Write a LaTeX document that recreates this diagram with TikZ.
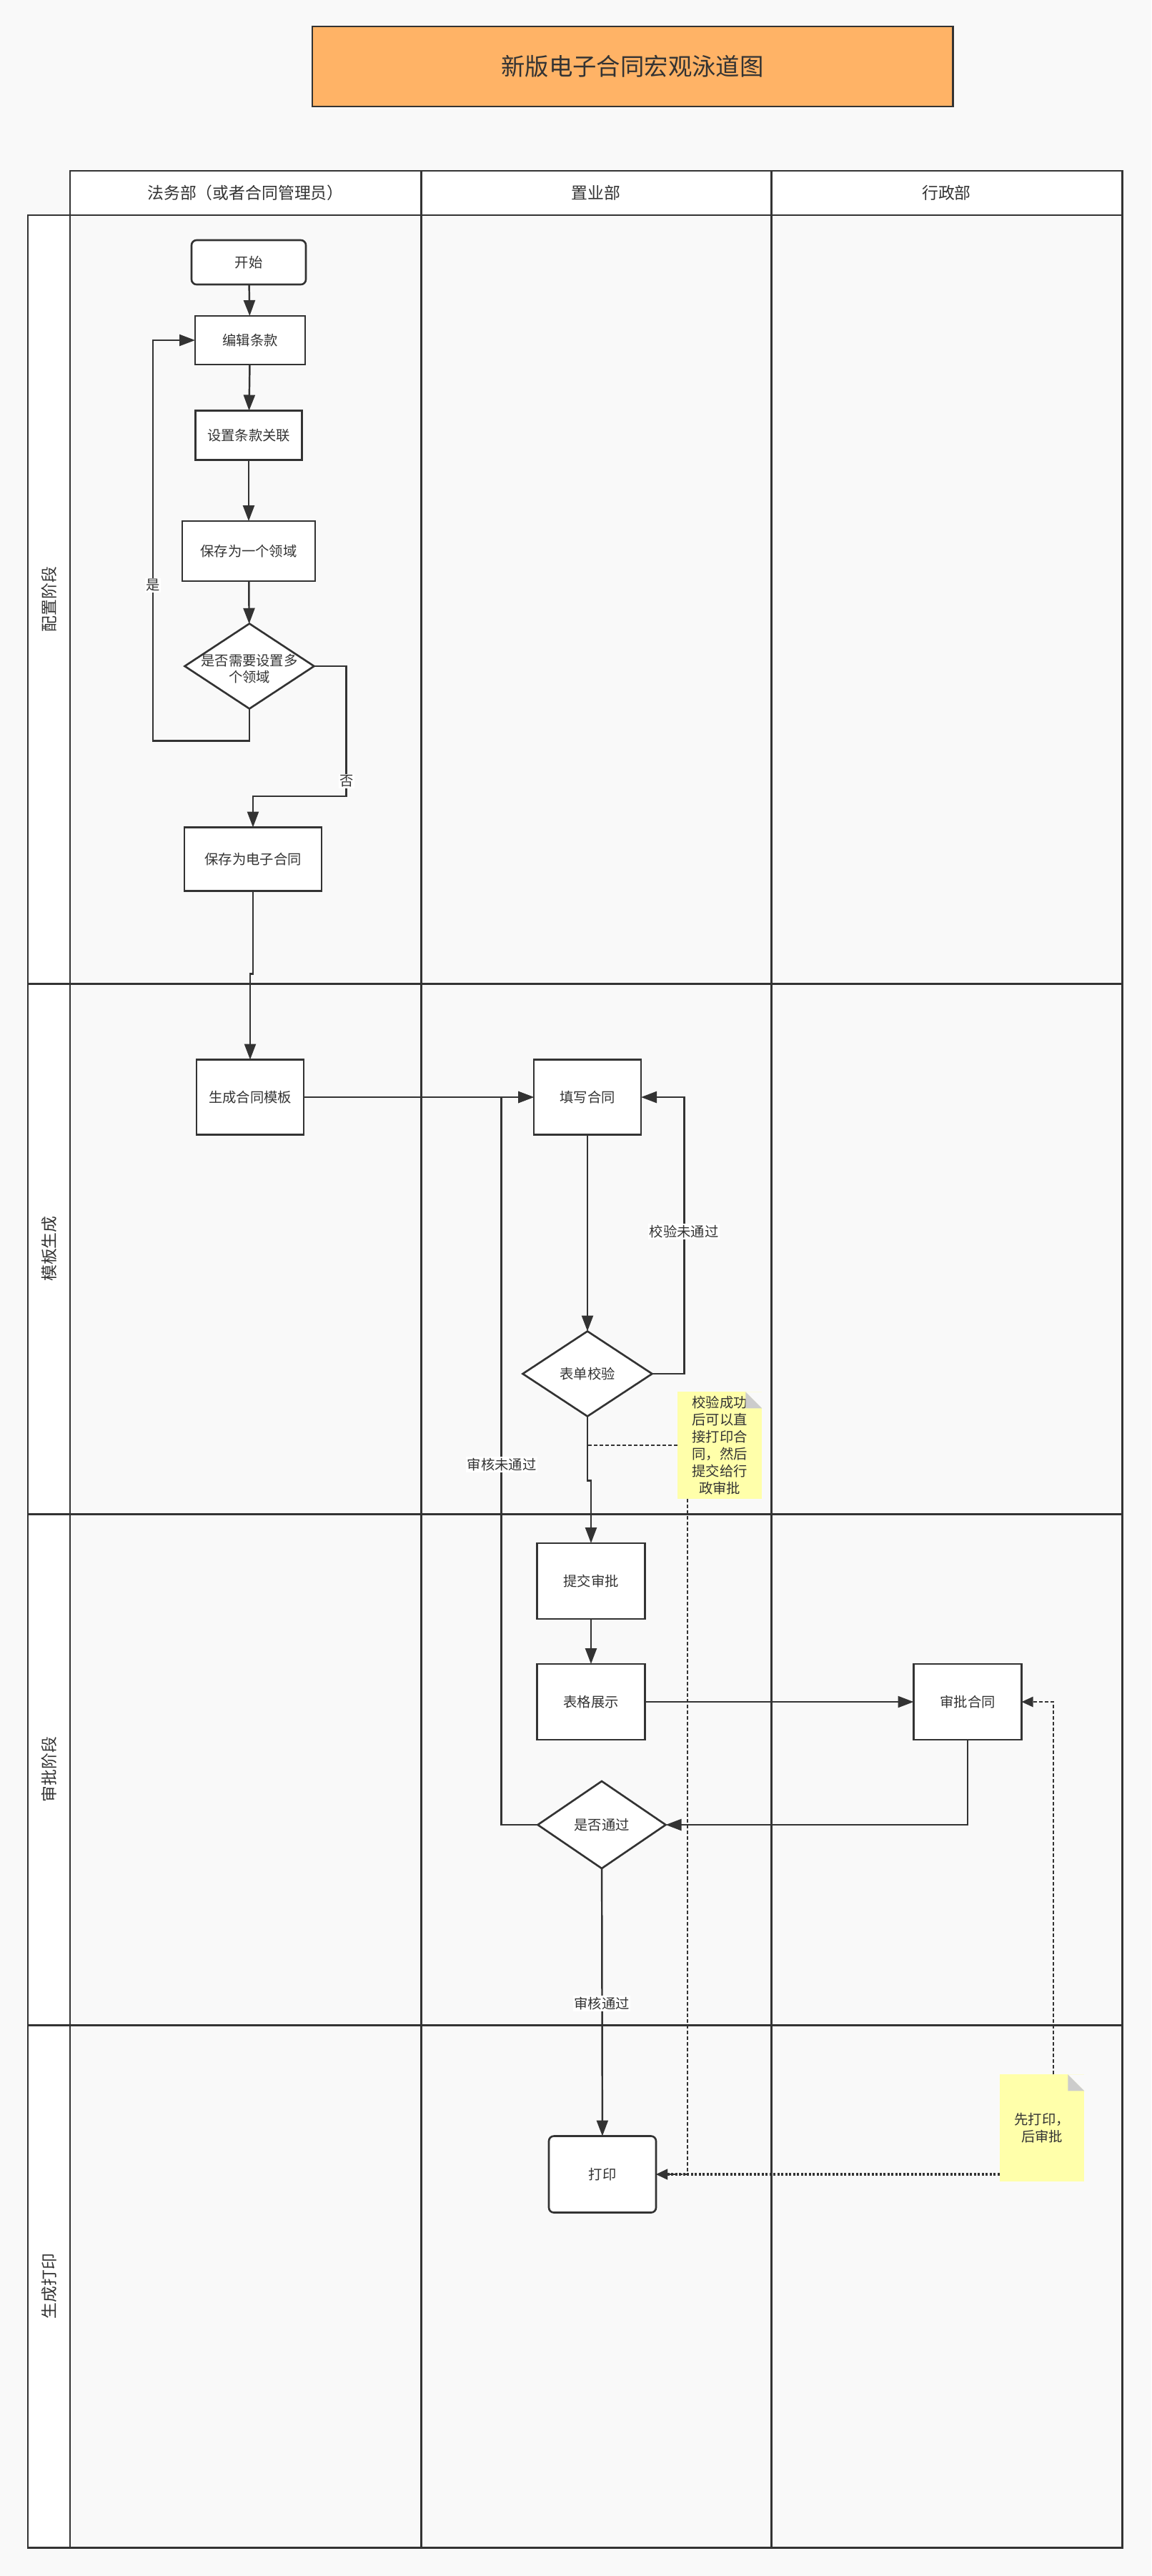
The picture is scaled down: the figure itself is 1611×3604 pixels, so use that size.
\documentclass[tikz,border=0pt]{standalone}
\usepackage{fontspec}
\setmainfont{Noto Sans CJK SC}
\usepackage{tikz}
\usetikzlibrary{arrows.meta, positioning, shapes.geometric, calc}
\definecolor{ink}{HTML}{333333}
\definecolor{pagebg}{HTML}{F9F9F9}
\definecolor{titlefill}{HTML}{FFB366}
\definecolor{notefill}{HTML}{FFFFAA}
\definecolor{foldgrey}{HTML}{CCCCCC}
\tikzset{
  lane/.style    ={draw=ink, line width=1.7pt},
  titlebox/.style={draw=ink, fill=titlefill, line width=1.7pt, text=ink,
                   minimum width=179.2mm, minimum height=22.4mm,
                   font=\fontsize{19}{22}\selectfont},
  headtxt/.style ={text=ink, font=\fontsize{13}{15}\selectfont},
  phasetxt/.style={text=ink, rotate=90, font=\fontsize{13}{15}\selectfont},
  % flow chart nodes
  box/.style     ={draw=ink, fill=white, line width=1.5pt, text=ink,
                   inner sep=0pt, outer sep=0pt,
                   font=\fontsize{11}{13}\selectfont},
  endbox/.style  ={box, rounded corners=4pt},
  dec/.style     ={draw=ink, fill=white, line width=1.5pt, diamond,
                   inner sep=0pt, outer sep=0pt,
                   minimum width=36.2mm, minimum height=23.8mm},
  dectxt/.style  ={text=ink, align=center,
                   font=\fontsize{11}{13}\selectfont},
  notebox/.style ={fill=notefill, text=ink, align=center, inner sep=0pt,
                   outer sep=0pt, minimum width=23.7mm, minimum height=29.9mm,
                   font=\fontsize{11}{13.6}\selectfont},
  flow/.style    ={-{Triangle[length=4.4mm, width=3.2mm]}, draw=ink,
                   line width=1.4pt},
  hint/.style    ={-{Triangle[length=3.2mm, width=2.8mm]}, draw=ink,
                   line width=1.4pt, dash pattern=on 1mm off 0.6mm},
  hintB/.style   ={-{Triangle[length=3.2mm, width=2.8mm]}, draw=ink,
                   line width=2pt, dash pattern=on 0.6mm off 0.5mm},
  elbl/.style    ={fill=white, text=ink, inner sep=1pt,
                   font=\fontsize{11}{13}\selectfont},
}

\begin{document}
\begin{tikzpicture}[x=0.2mm, y=-0.2mm]
  \fill[pagebg] (0,0) rectangle (1611,3604);
  \node[titlebox] (title) at (885,93) {新版电子合同宏观泳道图};

  % lanes
  \draw[lane, fill=white] (98,239) rectangle (1570,301);
  \node[headtxt] (hlaw)   at (343.5,270)  {法务部（或者合同管理员）};
  \node[headtxt] (hsales) at (834,270)    {置业部};
  \node[headtxt] (hadmin) at (1324.5,270) {行政部};
  \foreach \ya/\yb/\phase [count=\i] in
      {301/1376/配置阶段, 1376/2118/模板生成, 2118/2833/审批阶段, 2833/3564/生成打印} {
    \draw[lane, fill=white] (39,\ya) rectangle (98,\yb);
    \draw[lane] (98,\ya) rectangle (1570,\yb);
    \node[phasetxt] (phase\i) at (68.5,{(\ya+\yb)/2}) {\phase};
  }
  \draw[lane] (589,239) -- (589,3564);
  \draw[lane] (1079,239) -- (1079,3564);

  % configuration
  \node[endbox, minimum width=32mm, minimum height=12.4mm] (start) at (348,367) {开始};
  \node[box, minimum width=30.8mm, minimum height=13.6mm] (edit) at (350,476) {编辑条款};
  \node[box, minimum width=29.8mm, minimum height=13.8mm] (link) at (348,609) {设置条款关联};
  \node[box, minimum width=37.2mm, minimum height=16.8mm] (dom) at (348,771) {保存为一个领域};
  \node[dec] (multi) at (349,932) {};
  \node[dectxt] (multitxt) at (349,936) {是否需要设置多\\个领域};
  \node[box, minimum width=38.4mm, minimum height=17.8mm] (save) at (354,1202) {保存为电子合同};

  % template
  \node[box, minimum width=30mm, minimum height=21mm] (tpl) at (350,1535) {生成合同模板};
  \node[box, minimum width=30mm, minimum height=21mm] (fill) at (822,1535) {填写合同};
  \node[dec] (check) at (822,1922) {};
  \node[dectxt] (checktxt) at (check) {表单校验};
  \node[notebox] (note1) at (1007,2022)
    {校验成功\\后可以直\\接打印合\\同，然后\\提交给行\\政审批};

  % approval
  \node[box, minimum width=30.2mm, minimum height=21.2mm] (submit) at (827,2212) {提交审批};
  \node[box, minimum width=30.2mm, minimum height=21.2mm] (show) at (827,2381) {表格展示};
  \node[box, minimum width=30.2mm, minimum height=21.2mm] (appr) at (1354,2381) {审批合同};
  \node[dec, minimum width=35.8mm, minimum height=24.4mm] (pass) at (842,2553) {};
  \node[dectxt] (passtxt) at (pass) {是否通过};

  % print
  \node[endbox, minimum width=30mm, minimum height=21.4mm] (print) at (843,3042) {打印};
  \node[notebox] (note2) at (1458,2977) {先打印，\\后审批};

  % folded corners
  \foreach \n in {note1, note2} {
    \fill[pagebg] (\n.north east) -- ($(\n.north east)+(-23,0)$)
      -- ($(\n.north east)+(0,23)$) -- cycle;
    \fill[foldgrey] ($(\n.north east)+(-23,0)$) -- ($(\n.north east)+(-23,23)$)
      -- ($(\n.north east)+(0,23)$) -- cycle;
  }

  % connectors
  \draw[flow] (start) -- (edit);
  \draw[flow] (edit) -- (link);
  \draw[flow] (link) -- (dom);
  \draw[flow] (dom) -- (multi);
  \draw[flow] (multi.south) -- ++(0,45) -- ++(-135,0) |- (edit.west);
  \draw[flow] (multi.east) -| ++(45,182) -| (save.north);
  \draw[flow] (save.south) -- ++(0,116) -| (tpl.north);
  \draw[flow] (tpl) -- (fill);
  \draw[flow] (fill) -- (check);
  \draw[flow] (check.east) -- ++(45,0) |- (fill.east);
  \draw[flow] (check.south) -- ++(0,90) -| (submit.north);
  \draw[flow] (submit) -- (show);
  \draw[flow] (show) -- (appr);
  \draw[flow] (appr.south) |- (pass.east);
  \draw[flow] (pass.west) -- ++(-51,0) |- (fill.west);
  \draw[flow] (pass) -- (print);
  \draw[hint, -] (note1.west) -- (note1.west -| check.south);
  \draw[hint] ($(note1.south)+(-45,0)$) |- (print.east);
  \draw[hintB] (note2.west |- print.east) -- (print.east);
  \draw[hint] ($(note2.north)+(16,0)$) |- (appr.east);

  % connector labels
  \node[elbl] (lyes)   at (214,819)  {是};
  \node[elbl] (lno)    at (485,1093) {否};
  \node[elbl] (lcheck) at (957,1723) {校验未通过};
  \node[elbl] (lback)  at (702,2049) {审核未通过};
  \node[elbl] (lpass)  at (842,2803) {审核通过};
\end{tikzpicture}
\end{document}
